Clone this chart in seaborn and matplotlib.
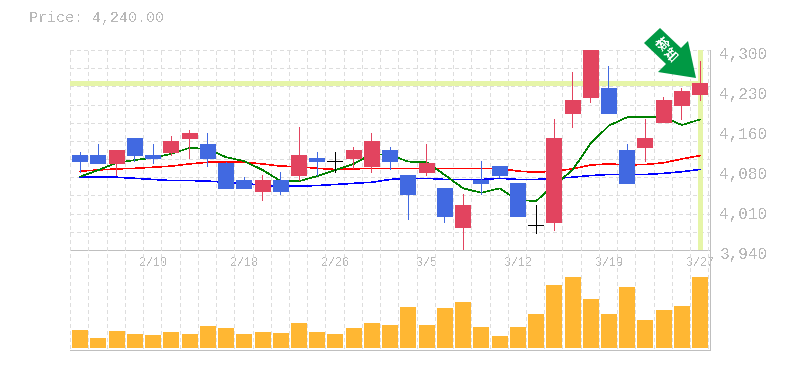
import numpy as np
import pandas as pd
import seaborn as sns
from matplotlib import pyplot as plt
from matplotlib.patches import Polygon
from matplotlib.transforms import ScaledTranslation

# candles, oldest first
opens = [4111, 4111, 4095, 4142, 4111, 4115, 4140, 4131, 4097, 4066, 4044, 4066, 4073, 4106, 4100, 4104, 4089, 4120,
         4075, 4079, 4052, 3980, 4066, 4091, 4061, 3984, 3989, 4185, 4214, 4232, 4120, 4124, 4169, 4199, 4219]
closes = [4098, 4095, 4120, 4109, 4104, 4136, 4151, 4104, 4050, 4050, 4066, 4044, 4111, 4098, 4100, 4120, 4136, 4098,
          4039, 4097, 4000, 4021, 4059, 4073, 4000, 3984, 4142, 4210, 4300, 4185, 4059, 4142, 4210, 4226, 4240]
highs = [4116, 4131, 4120, 4142, 4131, 4145, 4156, 4151, 4099, 4071, 4075, 4080, 4161, 4116, 4116, 4125, 4151, 4125,
         4075, 4131, 4052, 4041, 4100, 4091, 4061, 4021, 4176, 4260, 4300, 4271, 4131, 4176, 4215, 4232, 4280]
lows = [4079, 4095, 4073, 4098, 4095, 4109, 4104, 4089, 4050, 4050, 4028, 4039, 4064, 4073, 4079, 4086, 4079, 4084,
        3994, 4073, 3989, 3940, 4039, 4070, 4000, 3969, 3974, 4160, 4205, 4185, 4059, 4098, 4169, 4174, 4208]

# moving averages
ma_green = [4072, 4084, 4097, 4102, 4106, 4113, 4124, 4122, 4107, 4100, 4084, 4064, 4064, 4073, 4084, 4095, 4113, 4111,
            4099, 4098, 4075, 4051, 4043, 4051, 4030, 4028, 4057, 4084, 4132, 4164, 4179, 4179, 4179, 4165, 4175]
ma_red = [4082, 4084, 4086, 4087, 4089, 4091, 4095, 4098, 4098, 4098, 4095, 4091, 4090, 4087, 4085, 4086, 4087, 4087,
          4087, 4087, 4087, 4087, 4087, 4087, 4082, 4080, 4082, 4086, 4093, 4095, 4093, 4094, 4097, 4104, 4110]
ma_blue = [4071, 4071, 4071, 4069, 4067, 4065, 4065, 4064, 4062, 4060, 4056, 4055, 4055, 4056, 4058, 4060, 4062, 4067,
           4069, 4069, 4067, 4067, 4067, 4069, 4067, 4067, 4069, 4071, 4074, 4076, 4076, 4076, 4078, 4081, 4085]

volume = [18, 10, 17, 14, 13, 16, 14, 22, 20, 14, 16, 15, 25, 16, 14, 20, 25, 23,
          41, 23, 40, 46, 21, 12, 21, 34, 63, 71, 49, 34, 61, 28, 38, 42, 71]

price_ticks = [4300, 4228, 4156, 4084, 4012, 3940]
price_labels = ['4,300', '4,230', '4,160', '4,080', '4,010', '3,940']
date_ticks = [4, 9, 14, 19, 24, 29, 34]
date_labels = ['2/10', '2/18', '2/26', '3/5', '3/12', '3/19', '3/27']
last_price = 4240

UP = '#E2445F'
DOWN = '#4169E1'
GRID = '#DDDDDD'
FRAME = '#BFBFBF'
TEXT = '#B8B8B8'
BAND = '#E6F5A8'

sns.set_style('white')
plt.rcParams['font.family'] = ['Liberation Mono', 'Noto Sans CJK JP', 'DejaVu Sans']
plt.rcParams['text.antialiased'] = False
plt.rcParams['lines.antialiased'] = False
plt.rcParams['patch.antialiased'] = False

df = pd.DataFrame({'i': np.arange(len(opens)), 'open': opens, 'close': closes, 'high': highs, 'low': lows,
                   'green': ma_green, 'red': ma_red, 'blue': ma_blue, 'volume': volume})

fig = plt.figure(figsize=(7.85, 3.7), dpi=100)
ax = fig.add_axes([70 / 785, 120 / 370, 640 / 785, 200 / 370])
ax_vol = fig.add_axes([70 / 785, 20 / 370, 640 / 785, 100 / 370])
ax_vol.patch.set_alpha(0)

xlim = (-0.56, 34.54)
grid_x = np.arange(36) - 0.55

# PRICE PANEL
# ---------------------------------------------------------------------------------------------------------------------
ax.vlines(grid_x, 3940, 4300, color=GRID, lw=0.72, linestyles=(0, (3, 3)), zorder=0)
ax.hlines(np.linspace(3940, 4300, 12), xlim[0], xlim[1], color=GRID, lw=0.72, linestyles=(0, (3, 3)), zorder=0)

# current price cross
ax.hlines(last_price, xlim[0], df['i'].iloc[-1], color=BAND, lw=2.3, zorder=1, antialiased=False)
ax.vlines(df['i'].iloc[-1], 3942, 4300, color=BAND, lw=2.3, zorder=1, antialiased=False)

sns.lineplot(data=df, x='i', y='blue', color='#0000FF', linewidth=0.4, ax=ax, zorder=2)
sns.lineplot(data=df, x='i', y='red', color='#FF0000', linewidth=0.4, ax=ax, zorder=2)
sns.lineplot(data=df, x='i', y='green', color='#008000', linewidth=0.4, ax=ax, zorder=2)

colors = [UP if c > o else DOWN if c < o else 'black' for o, c in zip(opens, closes)]
# wicks as one pixel wide bars so they keep their full colour
ax.bar(df['i'], df['high'] - df['low'], bottom=df['low'], width=0.055, color=colors, lw=0, zorder=3)
body = (df['close'] - df['open']).abs()
ax.bar(df['i'], body, bottom=df[['open', 'close']].min(axis=1), width=0.877, color=colors, lw=0, zorder=4)
flat = df[df['open'] == df['close']]
ax.bar(flat['i'], 1.8, bottom=flat['open'] - 0.9, width=0.877, color='black', lw=0, zorder=4)

ax.set_xlim(xlim)
ax.set_ylim(3940, 4300)
ax.set_xlabel('')
ax.set_ylabel('')
ax.yaxis.tick_right()
ax.set_yticks(price_ticks)
ax.set_yticklabels(price_labels, fontsize=11.5, color=TEXT)
ax.set_xticks(date_ticks)
ax.set_xticklabels(date_labels, fontsize=8.5, color=TEXT)
ax.tick_params(axis='y', length=0, pad=7)
ax.tick_params(axis='x', length=0, pad=5)
for label in ax.get_yticklabels():
    label.set_transform(label.get_transform() + ScaledTranslation(0, -2.5 / 72, fig.dpi_scale_trans))
for side in ['top', 'left']:
    ax.spines[side].set_visible(False)
for side in ['bottom', 'right']:
    ax.spines[side].set_color(FRAME)
    ax.spines[side].set_linewidth(0.72)

# VOLUME PANEL
# ---------------------------------------------------------------------------------------------------------------------
ax_vol.vlines(grid_x, 0, 100, color=GRID, lw=0.72, linestyles=(0, (3, 3)), zorder=0)
sns.barplot(data=df, x='i', y='volume', native_scale=True, width=0.877, color='#FFB733', saturation=1, lw=0,
            ax=ax_vol, zorder=2)
ax_vol.set_xlim(xlim)
ax_vol.set_ylim(-2.3, 97.7)
ax_vol.set_xlabel('')
ax_vol.set_ylabel('')
ax_vol.set_xticks([])
ax_vol.set_yticks([])
for side in ['top', 'left']:
    ax_vol.spines[side].set_visible(False)
for side in ['bottom', 'right']:
    ax_vol.spines[side].set_color(FRAME)
    ax_vol.spines[side].set_linewidth(0.72)

# TITLE AND ARROW
# ---------------------------------------------------------------------------------------------------------------------
fig.text(29 / 785, 1 - 18 / 370, f'Price: {last_price:,.2f}', fontsize=10.8, color=TEXT, va='center')

# arrow outline in figure pixels, y measured from the top
arrow = [(660, 28), (644, 43), (666, 64), (658, 72), (696, 78), (688, 41), (681, 48)]
arrow = [(x / 785, 1 - y / 370) for x, y in arrow]
fig.add_artist(Polygon(arrow, closed=True, transform=fig.transFigure, facecolor='#009944', edgecolor='none',
                       antialiased=True, zorder=10))
fig.text(660 / 785, 1 - 45 / 370, '検', fontsize=9.5, fontweight='bold', color='white', rotation=-45,
         ha='center', va='center', zorder=11)
fig.text(670 / 785, 1 - 55 / 370, '知', fontsize=9.5, fontweight='bold', color='white', rotation=-45,
         ha='center', va='center', zorder=11)

plt.savefig('out.png', dpi=100)
